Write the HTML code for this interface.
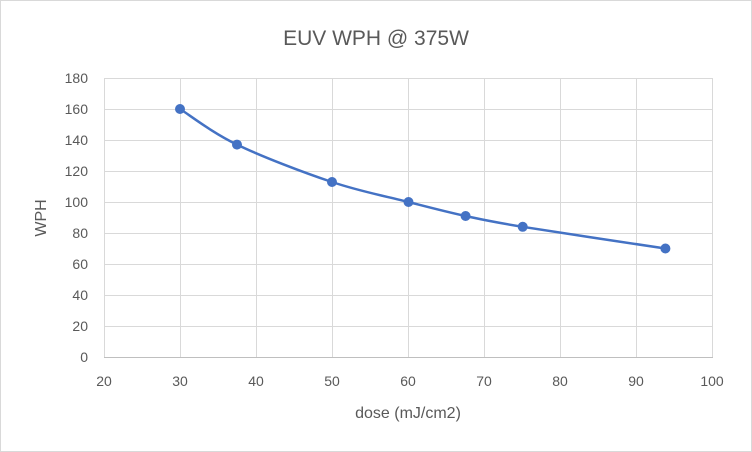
<!DOCTYPE html>
<html><head><meta charset="utf-8"><style>
html,body{margin:0;padding:0;background:#fff;}
svg{display:block;font-family:"Liberation Sans",sans-serif;}
</style></head><body>
<svg width="752" height="452" viewBox="0 0 752 452" xmlns="http://www.w3.org/2000/svg">
<rect x="0.5" y="0.5" width="751" height="451" fill="#fff" stroke="#d9d9d9"/>
<text x="376" y="45" text-anchor="middle" font-size="21" fill="#595959">EUV WPH @ 375W</text>
<g stroke="#d9d9d9" stroke-width="1">
<line x1="104" y1="78.5" x2="713" y2="78.5"/>
<line x1="104" y1="109.5" x2="713" y2="109.5"/>
<line x1="104" y1="140.5" x2="713" y2="140.5"/>
<line x1="104" y1="171.5" x2="713" y2="171.5"/>
<line x1="104" y1="202.5" x2="713" y2="202.5"/>
<line x1="104" y1="233.5" x2="713" y2="233.5"/>
<line x1="104" y1="264.5" x2="713" y2="264.5"/>
<line x1="104" y1="295.5" x2="713" y2="295.5"/>
<line x1="104" y1="326.5" x2="713" y2="326.5"/>
<line x1="104.5" y1="78" x2="104.5" y2="357"/>
<line x1="180.5" y1="78" x2="180.5" y2="357"/>
<line x1="256.5" y1="78" x2="256.5" y2="357"/>
<line x1="332.5" y1="78" x2="332.5" y2="357"/>
<line x1="408.5" y1="78" x2="408.5" y2="357"/>
<line x1="484.5" y1="78" x2="484.5" y2="357"/>
<line x1="560.5" y1="78" x2="560.5" y2="357"/>
<line x1="636.5" y1="78" x2="636.5" y2="357"/>
<line x1="712.5" y1="78" x2="712.5" y2="357"/>
</g>
<line x1="104" y1="357.5" x2="713" y2="357.5" stroke="#bfbfbf"/>
<g font-size="14" fill="#595959" text-anchor="end">
<text x="88" y="83">180</text><text x="88" y="114">160</text><text x="88" y="145">140</text>
<text x="88" y="176">120</text><text x="88" y="207">100</text><text x="88" y="238">80</text>
<text x="88" y="269">60</text><text x="88" y="300">40</text><text x="88" y="331">20</text>
<text x="88" y="362">0</text>
</g>
<g font-size="14" fill="#595959" text-anchor="middle">
<text x="104" y="386">20</text><text x="180" y="386">30</text><text x="256" y="386">40</text>
<text x="332" y="386">50</text><text x="408" y="386">60</text><text x="484" y="386">70</text>
<text x="560" y="386">80</text><text x="636" y="386">90</text><text x="712" y="386">100</text>
</g>
<text x="408" y="418" text-anchor="middle" font-size="16" fill="#595959">dose (mJ/cm2)</text>
<text transform="translate(46,218) rotate(-90)" text-anchor="middle" font-size="16" fill="#595959">WPH</text>
<path d="M180,109 C189.5,114.9 211.7,132.4 237,144.6 C262.3,156.8 303.4,172.4 332,182 C360.6,191.6 386.2,196.3 408.5,202 C430.8,207.7 446.6,211.9 465.6,216 C484.6,220.1 489.4,221.4 522.7,226.8 C556,232.2 641.6,244.9 665.4,248.5" fill="none" stroke="#4472c4" stroke-width="2.5"/>
<g fill="#4472c4">
<circle cx="180" cy="109" r="5"/><circle cx="237" cy="144.6" r="5"/><circle cx="332" cy="182" r="5"/>
<circle cx="408.5" cy="202" r="5"/><circle cx="465.6" cy="216" r="5"/><circle cx="522.7" cy="226.8" r="5"/>
<circle cx="665.4" cy="248.5" r="5"/>
</g>
</svg>
</body></html>
